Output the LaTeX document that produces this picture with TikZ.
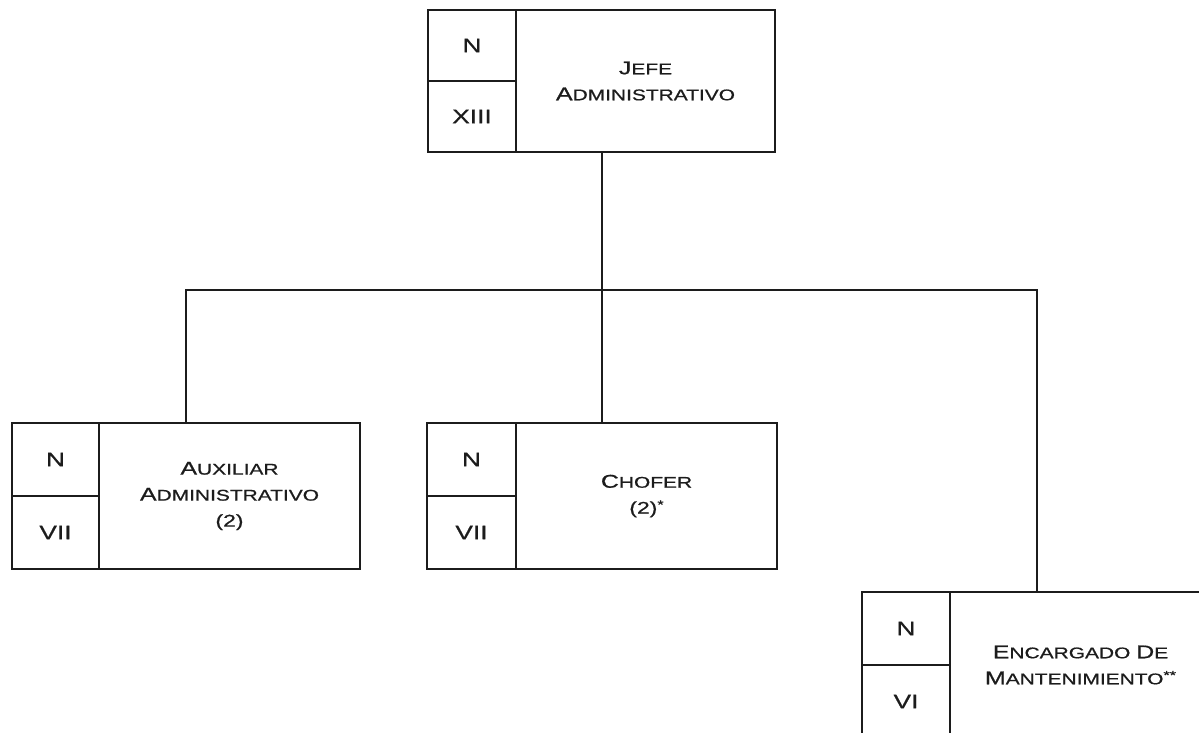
\documentclass[tikz,border=0pt]{standalone}
\usepackage{fontspec}
\setmainfont{Liberation Sans}[FakeStretch=1.35,FakeBold=0.8]
\usetikzlibrary{calc}
\definecolor{tinta}{HTML}{1C1C1C}
\newcommand{\capsc}[2]{{\fontsize{18.5}{26}\selectfont #1}{\fontsize{15.5}{26}\selectfont #2}}
\newcommand{\nota}[1]{\raisebox{5pt}{\fontsize{12}{12}\selectfont #1}}

\begin{document}
\begin{tikzpicture}[x=1pt,y=-1pt,line width=2pt,draw=tinta,text=tinta,
    puesto/.style={draw,inner sep=0,outer sep=0,minimum height=146,anchor=north west},
    nivel/.style={draw,inner sep=0,outer sep=0,minimum width=88,minimum height=73,anchor=north west,
      font=\fontsize{19.5}{20}\selectfont},
    titulo/.style={align=center,inner sep=0,font=\fontsize{15.5}{26}\selectfont}]
  \clip (0,0) rectangle (1199,733);
  % jefe
  \node[puesto,minimum width=347,minimum height=142] (jefe) at (428,10) {};
  \node[nivel,minimum height=71] (jefeN) at (jefe.north west) {N};
  \node[nivel,minimum height=71] (jefeG) at (jefeN.south west) {XIII};
  \node[titulo] (jefeT) at ($(jefeN.north east)!.5!(jefe.south east)$)
    {\capsc{J}{EFE}\\\capsc{A}{DMINISTRATIVO}};
  % auxiliar
  \node[puesto,minimum width=348] (aux) at (12,423) {};
  \node[nivel,minimum width=87] (auxN) at (aux.north west) {N};
  \node[nivel,minimum width=87] (auxG) at (auxN.south west) {VII};
  \node[titulo] (auxT) at ($(auxN.north east)!.5!(aux.south east)$)
    {\capsc{A}{UXILIAR}\\\capsc{A}{DMINISTRATIVO}\\{\fontsize{17}{26}\selectfont(2)}};
  % chofer
  \node[puesto,minimum width=350] (chofer) at (427,423) {};
  \node[nivel,minimum width=89] (choferN) at (chofer.north west) {N};
  \node[nivel,minimum width=89] (choferG) at (choferN.south west) {VII};
  \node[titulo] (choferT) at ($(choferN.north east)!.5!(chofer.south east)$)
    {\capsc{C}{HOFER}\\{\fontsize{17}{26}\selectfont(2)\nota{*}}};
  % mantenimiento
  \node[puesto,minimum width=349] (mant) at (862,592) {};
  \node[nivel] (mantN) at (mant.north west) {N};
  \node[nivel] (mantG) at (mantN.south west) {VI};
  \node[titulo] (mantT) at ($(mantN.north east)!.5!(mant.south east)$)
    {\capsc{E}{NCARGADO} \capsc{D}{E}\\\capsc{M}{ANTENIMIENTO}\nota{**}};
  % lineas
  \draw (jefe.south) -- ++(0,138) coordinate (barra);
  \draw (aux.north) |- (barra) -| (mant.north);
  \draw (chofer.north) -- (chofer.north |- barra);
\end{tikzpicture}
\end{document}
